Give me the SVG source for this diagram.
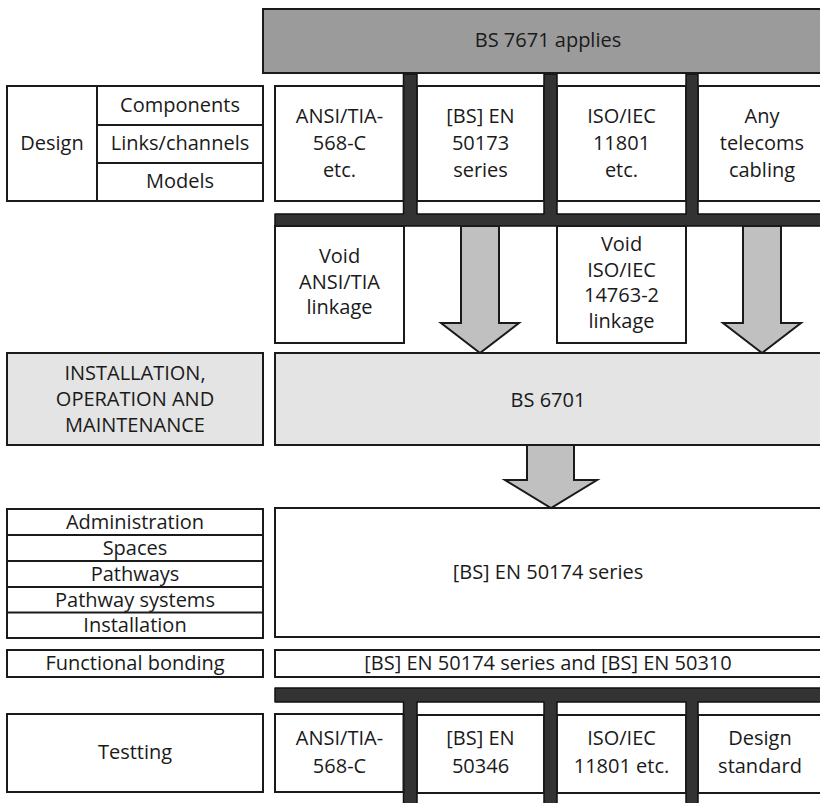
<svg xmlns="http://www.w3.org/2000/svg" width="820" height="803" viewBox="0 0 820 803">
  <style>
    .box { fill: #ffffff; stroke: #1a1a1a; stroke-width: 2; }
    .tint { fill: #e4e4e4; stroke: #1a1a1a; stroke-width: 2; }
    .head { fill: #9b9b9b; stroke: #1a1a1a; stroke-width: 2; }
    .bar { fill: #333333; stroke: #111111; stroke-width: 1.5; stroke-linejoin: round; }
    .arrow { fill: #c0c0c0; stroke: #1a1a1a; stroke-width: 2; stroke-linejoin: miter; }
    .rule { stroke: #1a1a1a; stroke-width: 2; fill: none; }
    text { font-family: "Open Sans", "Noto Sans", "DejaVu Sans", sans-serif; font-size: 20px; fill: #1a1a1a; text-anchor: middle; }
  </style>

  <!-- distribution bars (combs) and flow arrows -->
  <g id="connectors">
    <path class="bar" d="M275,214 H403.5 V74 H417 V214 H544 V74 H557 V214 H686 V74 H698 V214 H830 V226 H275 Z"/>
    <path class="bar" d="M275,688 H830 V702 H698 V810 H686 V702 H557 V810 H544 V702 H417 V810 H403.5 V702 H275 Z"/>
    <path class="arrow" d="M461,226 H499 V323 H519 L480,353 L441,323 H461 Z"/>
    <path class="arrow" d="M743,226 H781 V323 H801 L762,353 L723,323 H743 Z"/>
    <path class="arrow" d="M527,445 H574 V480 H597 L551,508 L505,480 H527 Z"/>
  </g>

  <!-- top banner -->
  <g id="bs7671">
    <rect class="head" x="263" y="9" width="570" height="64"/>
    <text x="548" y="47">BS 7671 applies</text>
  </g>

  <!-- design row -->
  <g id="design">
    <rect class="box" x="7" y="86" width="256" height="115"/>
    <line class="rule" x1="97" y1="86" x2="97" y2="201"/>
    <line class="rule" x1="97" y1="125" x2="263" y2="125"/>
    <line class="rule" x1="97" y1="163" x2="263" y2="163"/>
    <text x="52" y="150">Design</text>
    <text x="180" y="112">Components</text>
    <text x="180" y="150">Links/channels</text>
    <text x="180" y="188">Models</text>
  </g>

  <g id="ansi-design">
    <rect class="box" x="275" y="86" width="128.5" height="115"/>
    <text x="339.5" y="123">ANSI/TIA-</text>
    <text x="339.5" y="150">568-C</text>
    <text x="339.5" y="177">etc.</text>
  </g>
  <g id="en50173">
    <rect class="box" x="417" y="86" width="127" height="115"/>
    <text x="480.5" y="123">[BS] EN</text>
    <text x="480.5" y="150">50173</text>
    <text x="480.5" y="177">series</text>
  </g>
  <g id="iso11801">
    <rect class="box" x="557" y="86" width="129" height="115"/>
    <text x="621.5" y="123">ISO/IEC</text>
    <text x="621.5" y="150">11801</text>
    <text x="621.5" y="177">etc.</text>
  </g>
  <g id="any-cabling">
    <rect class="box" x="698" y="86" width="132" height="115"/>
    <text x="762" y="123">Any</text>
    <text x="762" y="150">telecoms</text>
    <text x="762" y="177">cabling</text>
  </g>

  <!-- void linkages -->
  <g id="void-ansi">
    <rect class="box" x="275" y="226" width="129" height="117"/>
    <text x="339.5" y="263">Void</text>
    <text x="339.5" y="289">ANSI/TIA</text>
    <text x="339.5" y="314">linkage</text>
  </g>
  <g id="void-iso">
    <rect class="box" x="557" y="226" width="129" height="117"/>
    <text x="621.5" y="251">Void</text>
    <text x="621.5" y="276.5">ISO/IEC</text>
    <text x="621.5" y="302">14763-2</text>
    <text x="621.5" y="327.5">linkage</text>
  </g>

  <!-- installation, operation and maintenance -->
  <g id="iom">
    <rect class="tint" x="7" y="353" width="256" height="92"/>
    <text x="135" y="380">INSTALLATION,</text>
    <text x="135" y="406">OPERATION AND</text>
    <text x="135" y="432">MAINTENANCE</text>
  </g>
  <g id="bs6701">
    <rect class="tint" x="275" y="353" width="560" height="92"/>
    <text x="548" y="407">BS 6701</text>
  </g>

  <!-- installation topics -->
  <g id="topics">
    <rect class="box" x="7" y="509" width="256" height="129"/>
    <line class="rule" x1="7" y1="535" x2="263" y2="535"/>
    <line class="rule" x1="7" y1="561" x2="263" y2="561"/>
    <line class="rule" x1="7" y1="587" x2="263" y2="587"/>
    <line class="rule" x1="7" y1="612.5" x2="263" y2="612.5"/>
    <text x="135" y="529">Administration</text>
    <text x="135" y="555">Spaces</text>
    <text x="135" y="581">Pathways</text>
    <text x="135" y="607">Pathway systems</text>
    <text x="135" y="632">Installation</text>
  </g>
  <g id="en50174">
    <rect class="box" x="275" y="508" width="560" height="129"/>
    <text x="548" y="579">[BS] EN 50174 series</text>
  </g>

  <!-- functional bonding -->
  <g id="bonding">
    <rect class="box" x="7" y="650" width="256" height="27"/>
    <text x="135" y="670">Functional bonding</text>
  </g>
  <g id="bonding-std">
    <rect class="box" x="275" y="650" width="560" height="27"/>
    <text x="548" y="670">[BS] EN 50174 series and [BS] EN 50310</text>
  </g>

  <!-- testing row -->
  <g id="testing">
    <rect class="box" x="7" y="714" width="256" height="78"/>
    <text x="135" y="759">Testting</text>
  </g>
  <g id="ansi-test">
    <rect class="box" x="275" y="714" width="128.5" height="78"/>
    <text x="339.5" y="745">ANSI/TIA-</text>
    <text x="339.5" y="773">568-C</text>
  </g>
  <g id="en50346">
    <rect class="box" x="417" y="715" width="127" height="78"/>
    <text x="480.5" y="745">[BS] EN</text>
    <text x="480.5" y="773">50346</text>
  </g>
  <g id="iso-test">
    <rect class="box" x="557" y="715" width="129" height="78"/>
    <text x="621.5" y="745">ISO/IEC</text>
    <text x="621.5" y="773">11801 etc.</text>
  </g>
  <g id="design-std">
    <rect class="box" x="698" y="715" width="132" height="78"/>
    <text x="760" y="745">Design</text>
    <text x="760" y="773">standard</text>
  </g>
</svg>
